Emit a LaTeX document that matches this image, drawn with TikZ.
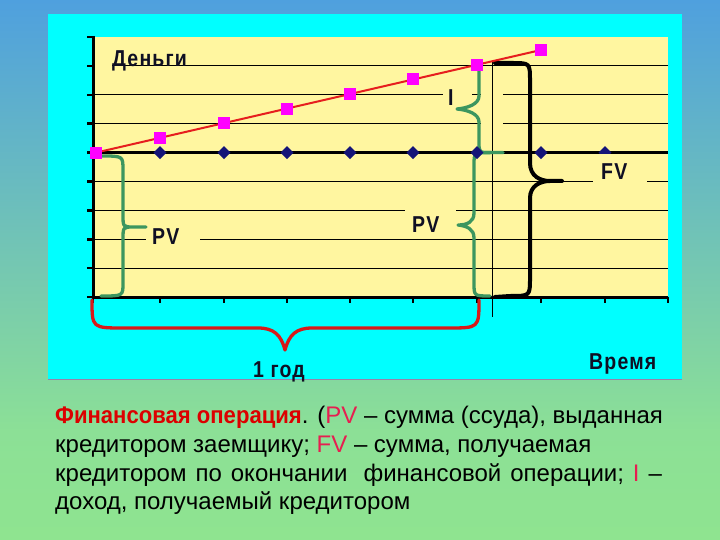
\documentclass[tikz,border=0pt]{standalone}
\usepackage{graphicx}
\usepackage{fontspec}
\setmainfont{Liberation Sans}
\newfontfamily\lblfont{Liberation Sans}[LetterSpace=6]
\usetikzlibrary{shapes.geometric}
\definecolor{bgblue}{RGB}{64,144,240}
\definecolor{bggreenA}{RGB}{140,224,150}
\definecolor{bggreenB}{RGB}{150,238,128}
\definecolor{panelcyan}{RGB}{0,255,255}
\definecolor{panelline}{RGB}{150,130,170}
\definecolor{plotyellow}{RGB}{255,246,160}
\definecolor{greenbr}{RGB}{60,150,95}
\definecolor{redbr}{RGB}{215,25,25}
\definecolor{redline}{RGB}{230,30,30}
\definecolor{magsq}{RGB}{255,0,255}
\definecolor{navy}{RGB}{20,20,120}
\definecolor{titlered}{RGB}{220,0,0}
\definecolor{hl}{RGB}{230,30,80}
\definecolor{lblcol}{RGB}{15,15,35}
\pgfdeclareverticalshading{bgshade}{100bp}{color(0bp)=(bggreenB); color(35bp)=(bggreenA); color(85bp)=(bgblue); color(100bp)=(bgblue)}
\newcommand\tallbox[1]{\scalebox{1}[1.18]{#1}}
\tikzset{
  gridline/.style={black, line width=0.9pt},
  gapfill/.style={fill=plotyellow},
  axisline/.style={black, line width=3pt},
  tickline/.style={black, line width=2.4pt},
  greenbrace/.style={draw=greenbr, line width=3.3pt, line cap=round, line join=round},
  redbrace/.style={draw=redbr, line width=3.3pt, line cap=round, line join=round},
  blackbrace/.style={draw=black, line width=4pt, line cap=round, line join=round},
  sq/.style={rectangle, fill=magsq, minimum size=12pt, inner sep=0pt},
  dia/.style={diamond, fill=navy, minimum size=13pt, inner sep=0pt},
  lbl/.style={anchor=base west, inner sep=0pt, text=lblcol, font=\lblfont\bfseries\fontsize{19.5}{22}\selectfont},
  txt/.style={anchor=base west, inner sep=0pt, text=black, font=\fontsize{24}{28}\selectfont}
}
\begin{document}
\begin{tikzpicture}[x=1pt,y=-1pt]
\useasboundingbox (0,0) rectangle (720,540);
\shade[shading=bgshade] (0,0) rectangle (720,540);
\fill[panelcyan] (48,14) rectangle (682,379);
\draw[panelline, line width=1pt] (48,379) -- (682,379);
\fill[plotyellow] (93,37) rectangle (668,297);
% grid lines
\draw[gridline] (112,65.9) -- (668,65.9);
\draw[gridline] (93,94.8) -- (668,94.8);
\draw[gridline] (93,123.7) -- (668,123.7);
\draw[gridline] (93,181.5) -- (668,181.5);
\draw[gridline] (93,210.4) -- (668,210.4);
\draw[gridline] (93,239.3) -- (668,239.3);
\draw[gridline] (93,268.2) -- (668,268.2);
% gaps behind labels
\fill[gapfill] (443,82) rectangle (472,110);
\fill[gapfill] (481,70) rectangle (503,148);
\fill[gapfill] (405,200) rectangle (456,232);
\fill[gapfill] (146,226) rectangle (200,250);
% base line (constant value)
\draw[black, line width=2.6pt] (93,152.6) -- (668,152.6);
% vertical line at end of year
\draw[black, line width=1.1pt] (492.5,62) -- (492.5,317);
% axes
\draw[axisline] (93,36) -- (93,297) -- (668,297);
\foreach \yy in {37,65.9,94.8,123.7,152.6,181.5,210.4,239.3,268.2,297.1}
  \draw[tickline] (87,\yy) -- (93,\yy);
\foreach \xx in {93,160,224,287,350,413,477,541,605,668}
  \draw[tickline] (\xx,297) -- (\xx,303);
% braces
\draw[greenbrace] (101,156) .. controls (123,156) .. (123,170) -- (123,215)
  .. controls (123,227) .. (134,227) -- (146,227)
  (134,227) .. controls (123,227) .. (123,239) -- (123,283)
  .. controls (123,296) .. (101,296);
\draw[greenbrace] (479,64) -- (479,96) .. controls (479,104) and (468,108) .. (457,109)
  .. controls (468,110) and (479,114) .. (479,122) -- (479,142)
  .. controls (479,152.6) .. (491,152.6) -- (503,152.6);
\draw[greenbrace] (491,152.6) .. controls (474,152.6) .. (474,165) -- (474,213)
  .. controls (474,222) and (467,225) .. (458,225)
  .. controls (467,226) and (474,229) .. (474,238) -- (474,283)
  .. controls (474,296) .. (490,296);
\draw[blackbrace] (495,63) -- (512,63) .. controls (530,63) .. (530,81) -- (530,163)
  .. controls (530,176) and (540,181) .. (550,181) -- (562,181)
  (550,181) .. controls (540,181) and (530,186) .. (530,198) -- (530,278)
  .. controls (530,296) .. (510,296) -- (495,297);
\draw[redbrace] (92,300) .. controls (92,328) .. (124,328) -- (258,328)
  .. controls (274,328) and (281,335) .. (285,350)
  .. controls (289,335) and (296,328) .. (312,328) -- (448,328)
  .. controls (479,328) .. (479,300);
% growth line with squares
\coordinate (p0) at (96,152.6);
\coordinate (p1) at (160,137.8);
\coordinate (p2) at (224,123.1);
\coordinate (p3) at (287,108.6);
\coordinate (p4) at (350,94.0);
\coordinate (p5) at (413,79.5);
\coordinate (p6) at (477,64.8);
\coordinate (p7) at (541,50);
\draw[redline, line width=2pt] (p0) -- (p7);
% diamonds on base line
\foreach \xx [count=\i] in {160,224,287,350,413,477,541,605}
  \node[dia] (d\i) at (\xx,152.6) {};
\foreach \i in {0,...,7}
  \node[sq] (s\i) at (p\i) {};
% FV label box hides lower half of the last diamond
\fill[gapfill] (593,154) rectangle (647,192);
% labels
\node[lbl] (money) at (112,67) {\tallbox{Деньги}};
\node[lbl] (pvleft) at (152,244) {\tallbox{PV}};
\node[lbl] (pvright) at (412,233) {\tallbox{PV}};
\node[lbl] (fv) at (601,180) {\tallbox{FV}};
\node[lbl] (inc) at (448,106) {\tallbox{I}};
\node[lbl] (time) at (589,369) {\tallbox{Время}};
\node[lbl] (year) at (253,377) {\tallbox{1 год}};
% caption
\node[txt] (t1) at (55,423) {\textcolor{titlered}{\bfseries\scalebox{0.92}[1]{Финансовая операция}}. (\textcolor{hl}{PV} – сумма (ссуда), выданная};
\node[txt] (t2) at (55,452) {кредитором заемщику; \textcolor{hl}{FV} – сумма, получаемая};
\node[txt] (t3) at (55,481) {кредитором\hspace{9pt}по\hspace{9pt}окончании\hspace{16pt}финансовой\hspace{9pt}операции;\hspace{9pt}\textcolor{hl}{I}\hspace{9pt}–};
\node[txt] (t4) at (55,509) {доход, получаемый кредитором};
\end{tikzpicture}
\end{document}
